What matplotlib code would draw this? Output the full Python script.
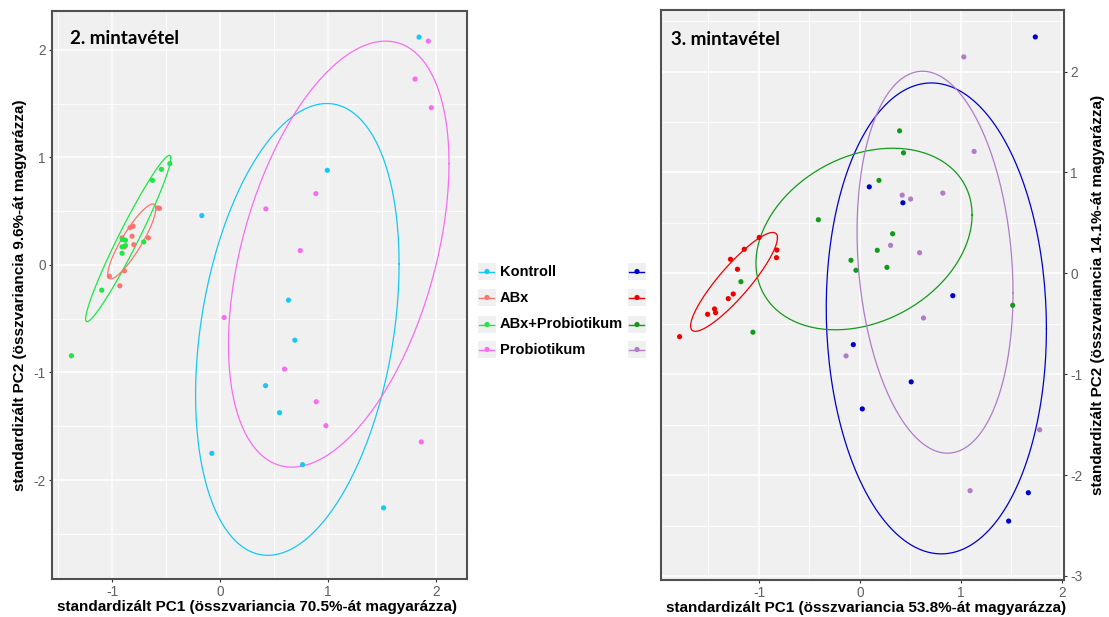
import numpy as np
import matplotlib
matplotlib.use("Agg")
import matplotlib.pyplot as plt
from matplotlib.patches import Rectangle

plt.rcParams["font.family"] = ["Liberation Sans", "DejaVu Sans"]

groups = ["Kontroll", "ABx", "ABx+Probiotikum", "Probiotikum"]

# ---- 2. mintavétel: PCA scores (PC1, PC2) ----
m2_kontroll_pc1 = [1.845, 0.994, -0.17, 0.634, 0.693, 0.421, 0.551, -0.077, 0.764, 1.516]
m2_kontroll_pc2 = [2.117, 0.879, 0.458, -0.328, -0.70, -1.123, -1.374, -1.752, -1.857, -2.259]
m2_abx_pc1 = [-0.579, -0.563, -0.666, -0.808, -0.836, -0.817, -0.801, -0.888, -1.028, -0.888, -0.931, -0.91]
m2_abx_pc2 = [0.529, 0.526, 0.251, 0.359, 0.346, 0.266, 0.188, 0.167, -0.105, -0.056, -0.195, 0.251]
m2_abxprob_pc1 = [-0.467, -0.545, -0.628, -0.709, -0.907, -0.879, -0.91, -0.879, -0.91, -1.099, -1.38]
m2_abxprob_pc2 = [0.941, 0.888, 0.786, 0.214, 0.235, 0.229, 0.167, 0.179, 0.108, -0.235, -0.845]
m2_prob_pc1 = [1.931, 1.808, 1.959, 0.888, 0.424, 0.743, 0.037, 0.597, 0.891, 0.981, 1.866]
m2_prob_pc2 = [2.08, 1.727, 1.461, 0.662, 0.52, 0.133, -0.489, -0.969, -1.272, -1.495, -1.646]

# ---- 3. mintavétel: PCA scores (PC1, PC2) ----
m3_kontroll_pc1 = [1.736, 0.092, 0.425, 0.919, -0.066, 0.507, 0.023, 1.667, 1.472]
m3_kontroll_pc2 = [2.343, 0.857, 0.699, -0.222, -0.707, -1.076, -1.344, -2.175, -2.456]
m3_abx_pc1 = [-0.998, -1.146, -0.823, -0.827, -1.282, -1.213, -1.255, -1.304, -1.44, -1.43, -1.509, -1.786]
m3_abx_pc2 = [0.356, 0.238, 0.231, 0.155, 0.139, 0.04, -0.205, -0.251, -0.353, -0.39, -0.406, -0.628]
m3_abxprob_pc1 = [0.392, 0.431, 0.188, -0.412, 0.323, 0.171, -0.089, -0.040, 0.267, -1.179, 1.512, -1.06]
m3_abxprob_pc2 = [1.412, 1.194, 0.921, 0.531, 0.392, 0.228, 0.129, 0.030, 0.059, -0.083, -0.317, -0.584]
m3_prob_pc1 = [1.028, 1.13, 0.820, 0.418, 0.501, 0.303, 0.590, 0.629, -0.138, 1.779, 1.09]
m3_prob_pc2 = [2.145, 1.208, 0.795, 0.775, 0.736, 0.277, 0.204, -0.443, -0.819, -1.551, -2.155]

# 95% ellipses per group: (centre PC1, centre PC2, sd PC1, sd PC2, correlation)
m2_ellipses = [(0.716, -0.60, 0.944, 2.10, 0.29),
               (-0.82, 0.218, 0.223, 0.348, 0.877),
               (-0.853, 0.245, 0.395, 0.773, 0.966),
               (1.10, 0.10, 1.023, 1.98, 0.425)]
m3_ellipses = [(0.756, -0.447, 1.09, 2.334, -0.045),
               (-1.247, -0.085, 0.43, 0.49, 0.89),
               (0.04, 0.34, 1.07, 0.90, 0.265),
               (0.743, 0.11, 0.772, 1.893, -0.16)]

m2_colors = ["#16C8F2", "#F8766D", "#1CE845", "#F86CF0"]
m3_colors = ["#0000CD", "#EE0000", "#139A1A", "#B07CC6"]

m2_points = [(m2_kontroll_pc1, m2_kontroll_pc2), (m2_abx_pc1, m2_abx_pc2),
             (m2_abxprob_pc1, m2_abxprob_pc2), (m2_prob_pc1, m2_prob_pc2)]
m3_points = [(m3_kontroll_pc1, m3_kontroll_pc2), (m3_abx_pc1, m3_abx_pc2),
             (m3_abxprob_pc1, m3_abxprob_pc2), (m3_prob_pc1, m3_prob_pc2)]


def ellipse_path(cx, cy, sx, sy, rho, n=200):
    t = np.linspace(0, 2 * np.pi, n)
    x = cx + sx * np.cos(t)
    y = cy + sy * (rho * np.cos(t) + np.sqrt(1 - rho ** 2) * np.sin(t))
    return x, y


def style_panel(ax, xlim, ylim, xticks, yticks):
    ax.set_facecolor("#F0F0F0")
    ax.set_xticks(xticks)
    ax.set_yticks(yticks)
    ax.set_xticks(np.arange(np.ceil(xlim[0] - 0.5) + 0.5, xlim[1], 1.0), minor=True)
    ax.set_yticks(np.arange(np.ceil(ylim[0] - 0.5) + 0.5, ylim[1], 1.0), minor=True)
    ax.grid(which="major", color="white", linewidth=1.1)
    ax.grid(which="minor", color="white", linewidth=0.6)
    ax.set_axisbelow(True)
    for sp in ax.spines.values():
        sp.set_color("#505050")
        sp.set_linewidth(1.5)
    ax.tick_params(which="major", length=2.5, width=0.8, color="#333333",
                   labelsize=9.8, labelcolor="#606060", pad=2)
    ax.tick_params(which="minor", length=0)
    ax.set_xticklabels([str(v) for v in xticks])
    ax.set_yticklabels([str(v) for v in yticks])


def draw_panel(ax, points, ellipses, colors, xlim, ylim):
    for (px, py), ell, c in zip(points, ellipses, colors):
        ex, ey = ellipse_path(*ell)
        ax.plot(ex, ey, color=c, linewidth=0.9, zorder=2)
        ax.scatter(px, py, s=14, color=c, edgecolors="none", zorder=3)
    ax.set_xlim(*xlim)
    ax.set_ylim(*ylim)


fig = plt.figure(figsize=(11.09, 6.17), dpi=100)
W, H = 1109, 617

ax1 = fig.add_axes([52 / W, 1 - 579 / H, 415 / W, 568 / H])
ax2 = fig.add_axes([661 / W, 1 - 580 / H, 403 / W, 570 / H])

lim1 = ((-1.56, 2.29), (-2.92, 2.36))
lim2 = ((-1.97, 2.02), (-3.04, 2.61))
style_panel(ax1, *lim1, [-1, 0, 1, 2], [-2, -1, 0, 1, 2])
style_panel(ax2, *lim2, [-1, 0, 1, 2], [-3, -2, -1, 0, 1, 2])

draw_panel(ax1, m2_points, m2_ellipses, m2_colors, *lim1)
draw_panel(ax2, m3_points, m3_ellipses, m3_colors, *lim2)

ax2.yaxis.tick_right()
ax2.yaxis.set_label_position("right")

label_kw = dict(fontsize=11, fontweight="bold", color="black")
ax1.set_xlabel("standardizált PC1 (összvariancia 70.5%-át magyarázza)", **label_kw)
ax1.set_ylabel("standardizált PC2 (összvariancia 9.6%-át magyarázza)", labelpad=5, **label_kw)
ax2.set_xlabel("standardizált PC1 (összvariancia 53.8%-át magyarázza)", **label_kw)
ax2.set_ylabel("standardizált PC2 (összvariancia 14.1%-át magyarázza)", labelpad=6,
               rotation=90, **label_kw)
ax1.xaxis.set_label_coords(0.493, -0.037)
ax2.xaxis.set_label_coords(0.509, -0.0365)

title_kw = dict(fontsize=13.5, fontweight="bold", family=["Lato", "DejaVu Sans"],
                va="center", ha="left")
ax1.text(0.043, 0.951, "2. mintavétel", transform=ax1.transAxes, **title_kw)
ax2.text(0.025, 0.949, "3. mintavétel", transform=ax2.transAxes, **title_kw)

# shared legend between the panels (pixel coordinates)
leg = fig.add_axes([467 / W, 0, (661 - 467) / W, 1])
leg.set_xlim(467, 661)
leg.set_ylim(H, 0)
leg.axis("off")
row_y = [271.5, 297.5, 324.5, 349.5]
for i, g in enumerate(groups):
    y = row_y[i]
    for x0, col in ((478, m2_colors[i]), (628, m3_colors[i])):
        leg.add_patch(Rectangle((x0, y - 8.5), 18, 17, facecolor="#F0F0F0",
                                edgecolor="none"))
        leg.plot([x0 + 1.5, x0 + 16.5], [y, y], color=col, linewidth=1.0)
        leg.scatter([x0 + 9], [y], s=14, color=col, edgecolors="none")
    leg.text(500, y, g, fontsize=10.5, fontweight="bold", va="center", ha="left")

fig.savefig("out.png", dpi=100)
